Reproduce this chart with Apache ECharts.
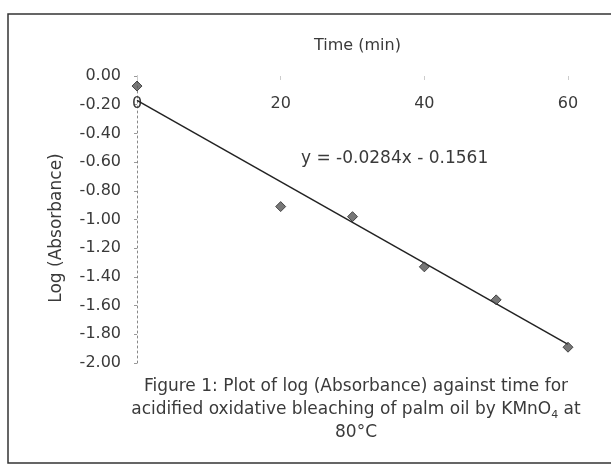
<!DOCTYPE html>
<html>
<head>
<meta charset="utf-8">
<style>
  html, body { margin: 0; padding: 0; background: #fff; }
  #main { width: 611px; height: 466px; }
</style>
<script src="https://cdn.jsdelivr.net/npm/echarts@6/dist/echarts.min.js"></script>
</head>
<body>
<div id="main"></div>
<script>
  // measured points, time (min) vs log(absorbance)
  var timeMin = [0, 20, 30, 40, 50, 60]
  var logAbs = [-0.07, -0.91, -0.98, -1.33, -1.56, -1.89]
  // linear trendline endpoints as drawn (y = -0.0284x - 0.1561)
  var trendX = [0, 60]
  var trendY = [-0.17, -1.87]
  var eqText = 'y = -0.0284x - 0.1561'

  var font = 'DejaVu Sans'
  var ink = '#3a3a3a'

  var points = []
  for (var i = 0; i < timeMin.length; i++) {
    points.push([timeMin[i], logAbs[i]])
  }
  var trend = []
  for (var j = 0; j < trendX.length; j++) {
    trend.push([trendX[j], trendY[j]])
  }

  var chart = echarts.init(document.getElementById('main'))
  var option = {
    backgroundColor: '#fff',
    animation: false,
    grid: { left: 137, right: 43, top: 76, bottom: 103 },
    xAxis: {
      type: 'value',
      position: 'top',
      min: 0,
      max: 60,
      interval: 20,
      name: 'Time (min)',
      nameLocation: 'middle',
      nameGap: 22,
      nameTextStyle: { fontFamily: font, fontSize: 16, color: ink, padding: [0, 0, 0, 10] },
      axisLine: { show: false },
      axisTick: { show: true, inside: true, length: 4, lineStyle: { color: '#ccc' } },
      axisLabel: { inside: true, margin: 20, fontFamily: font, fontSize: 16, color: ink },
      splitLine: { show: false }
    },
    yAxis: {
      type: 'value',
      min: -2,
      max: 0,
      interval: 0.2,
      axisLine: { show: true, onZero: false, lineStyle: { color: '#888', type: [2, 3], width: 1 } },
      axisTick: { show: true, length: 3, lineStyle: { color: '#999' } },
      axisLabel: {
        margin: 16,
        fontFamily: font,
        fontSize: 16,
        color: ink,
        formatter: function (v) { return v.toFixed(2) }
      },
      splitLine: { show: false }
    },
    series: [
      {
        name: 'trend',
        type: 'line',
        data: trend,
        symbol: 'none',
        lineStyle: { color: '#222', width: 1.5 },
        z: 2
      },
      {
        name: 'log(A)',
        type: 'scatter',
        data: points,
        symbol: 'diamond',
        symbolSize: 10,
        itemStyle: { color: '#555', borderColor: '#2a2a2a', borderWidth: 1 },
        z: 3
      }
    ],
    graphic: [
      {
        type: 'rect',
        shape: { x: 8, y: 14, width: 700, height: 449 },
        style: { fill: 'none', stroke: '#333', lineWidth: 1.5 }
      },
      {
        type: 'text',
        x: 57,
        y: 228,
        rotation: Math.PI / 2,
        style: {
          text: 'Log (Absorbance)',
          font: '17px "DejaVu Sans"',
          fill: ink,
          align: 'center',
          verticalAlign: 'middle'
        }
      },
      {
        type: 'text',
        left: 301,
        top: 150,
        style: { text: eqText, font: '17px "DejaVu Sans"', fill: ink }
      },
      {
        type: 'text',
        x: 356,
        y: 375,
        style: {
          text: 'Figure 1: Plot of log (Absorbance) against time for\nacidified oxidative bleaching of palm oil by KMnO{sub|4} at\n80°C',
          font: '17px "DejaVu Sans"',
          fill: ink,
          align: 'center',
          verticalAlign: 'top',
          lineHeight: 23,
          rich: {
            sub: { fontSize: 11, fontFamily: font, fill: ink, verticalAlign: 'bottom', lineHeight: 23 }
          }
        }
      }
    ]
  }
  chart.setOption(option)
</script>
</body>
</html>
